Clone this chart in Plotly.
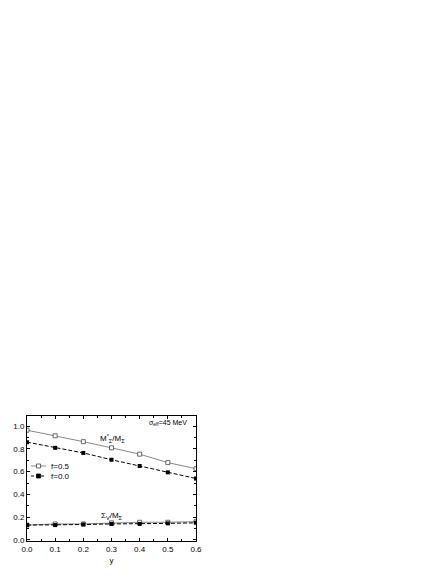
import plotly.graph_objects as go

# data
y_vals = [0.0, 0.1, 0.2, 0.3, 0.4, 0.5, 0.6]
mass_f05 = [0.965, 0.916, 0.864, 0.81, 0.754, 0.68, 0.626]
mass_f00 = [0.86, 0.81, 0.765, 0.705, 0.65, 0.594, 0.54]
sigv_f05 = [0.13, 0.14, 0.14, 0.15, 0.155, 0.155, 0.16]
sigv_f00 = [0.13, 0.13, 0.135, 0.14, 0.14, 0.145, 0.15]
legend_names = ["f=0.5", "f=0.0"]

FONT = "Liberation Sans, Arial, sans-serif"
GREY = "#888888"

fig = go.Figure()

# f=0.5: grey solid line, open squares
open_sq = dict(symbol="square", size=4, color="white", line=dict(width=0.8, color="#444444"))
for vals in (mass_f05, sigv_f05):
    fig.add_trace(go.Scatter(
        x=y_vals, y=vals, mode="lines+markers", name=legend_names[0], showlegend=False,
        line=dict(color=GREY, width=1), marker=open_sq,
    ))

# f=0.0: black dashed line, filled squares
fill_sq = dict(symbol="square", size=4, color="black")
for vals in (mass_f00, sigv_f00):
    fig.add_trace(go.Scatter(
        x=y_vals, y=vals, mode="lines+markers", name=legend_names[1], showlegend=False,
        line=dict(color="black", width=1, dash="4px,2px"), marker=fill_sq,
    ))

axis_common = dict(
    showline=True, linecolor="black", linewidth=1, mirror="allticks",
    ticks="inside", ticklen=3, tickwidth=1, tickcolor="black",
    showgrid=False, zeroline=False, automargin=False,
    tickfont=dict(family=FONT, size=8, color="black"),
)

fig.update_xaxes(
    range=[0, 0.6], dtick=0.1, tickformat=".1f",
    minor=dict(dtick=0.05, ticks="inside", ticklen=2, tickcolor="black", showgrid=False),
    title=dict(text="y", font=dict(family=FONT, size=8, color="black"), standoff=4),
    **axis_common,
)
fig.update_yaxes(
    range=[-0.01, 1.09], dtick=0.2, tickformat=".1f",
    minor=dict(dtick=0.1, ticks="inside", ticklen=2, tickcolor="black", showgrid=False),
    **axis_common,
)

fig.add_annotation(x=0.5, y=1.03, xref="x", yref="y", showarrow=False,
                   text="σ<sub>eff</sub>=45 MeV",
                   font=dict(family=FONT, size=7, color="black"))
fig.add_annotation(x=0.305, y=0.89, xref="x", yref="y", showarrow=False,
                   text="M<sup>*</sup><sub>Σ</sub>/M<sub>Σ</sub>",
                   font=dict(family=FONT, size=8, color="black"))
fig.add_annotation(x=0.3, y=0.21, xref="x", yref="y", showarrow=False,
                   text="Σ<sub>V</sub>/M<sub>Σ</sub>",
                   font=dict(family=FONT, size=8, color="black"))

# compact legend drawn in paper coordinates (as in the reference)
legend_rows = [
    (0.60, legend_names[0], dict(color=GREY, width=1), "white", "#444444"),
    (0.52, legend_names[1], dict(color="black", width=1, dash="3px,2px"), "black", "black"),
]
for ly, label, lstyle, fillc, edgec in legend_rows:
    fig.add_shape(type="line", xref="paper", yref="paper",
                  x0=0.024, x1=0.112, y0=ly, y1=ly, line=lstyle)
    fig.add_shape(type="rect", xref="paper", yref="paper",
                  x0=0.056, x1=0.080, y0=ly - 0.016, y1=ly + 0.016,
                  fillcolor=fillc, line=dict(color=edgec, width=0.8))
    fig.add_annotation(x=0.13, y=ly, xref="paper", yref="paper", showarrow=False,
                       xanchor="left", text=label,
                       font=dict(family=FONT, size=8, color="black"))

# page body adds an 8px margin, so the figure is shifted/shrunk accordingly
fig.update_layout(
    width=431, height=562,
    margin=dict(l=19, r=243, t=408, b=29),
    paper_bgcolor="white", plot_bgcolor="white",
    font=dict(family=FONT, size=8, color="black"),
    showlegend=False,
)

fig.write_html("out.html")
